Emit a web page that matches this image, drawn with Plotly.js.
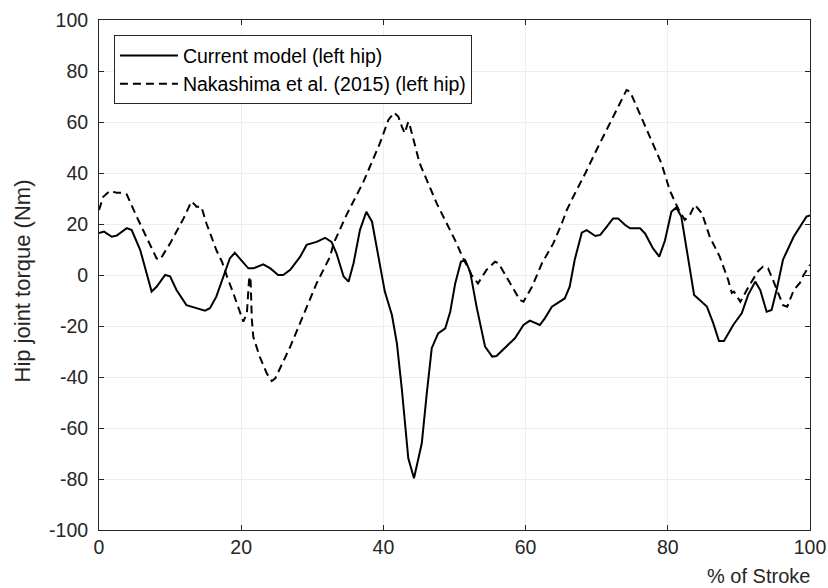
<!DOCTYPE html>
<html>
<head>
<meta charset="utf-8">
<script src="https://cdn.plot.ly/plotly-3.0.1.min.js"></script>
<style>html,body{margin:0;padding:0;background:#fff;}#chart{width:828px;height:588px;}</style>
</head>
<body>
<div id="chart"></div>
<script>
const seriesNames = ["Current model (left hip)", "Nakashima et al. (2015) (left hip)"];

const modelX = [0,0.7,1.8,2.5,3.9,4.6,5.8,7.4,8.1,9.3,10,10.9,12.3,13.3,13.7,14.9,15.6,16.5,17.5,18.4,19.1,19.8,21,21.7,23.1,24.1,25.2,25.9,26.9,28.3,29.2,30.6,31.8,32.7,33.4,34.4,35.1,35.8,36.7,37.6,38.4,39.3,40.2,41.2,41.9,42.6,43.5,44.3,45.4,46.1,46.8,47.7,48.7,49.4,50.1,50.9,51.5,52.2,53.1,54.3,55.3,55.9,57.3,58.5,59.7,60.6,62,62.7,63.7,64.8,65.5,66.2,66.9,67.9,68.6,69.8,70.5,71.4,72.3,73,74,74.7,76.1,76.8,77.9,78.8,79.6,80.5,81.2,81.9,82.7,83.7,85.5,86.4,87.2,87.9,89.2,90.4,91.3,92.3,93,93.9,94.6,95.3,96.2,97.7,99.5,100];
const modelY = [16.5,17,15,15.5,18.4,17.6,9.8,-6.5,-4.6,0,-0.5,-5.9,-11.8,-12.8,-13,-14,-13,-8.5,-0.6,6.5,8.7,6.5,2.6,2.6,4.2,2.6,0,0,2,7.2,11.8,13,14.6,13,8.5,-0.6,-2.6,4.6,17.6,24.8,20.9,7.2,-6.5,-15.7,-26.8,-45,-71.9,-79.7,-66,-46.4,-28.7,-22.9,-20.9,-14.4,-3.3,5.2,5.9,1.3,-12.4,-28.1,-32,-31.8,-28.1,-24.8,-19.6,-17.9,-19.6,-17,-12.4,-10.5,-9.2,-4.6,5.9,16.6,17.6,15.3,15.7,18.9,22.2,22.2,19.6,18.3,18.3,16.3,10.5,7.2,13.5,24.8,26.5,22.9,9.8,-7.8,-12.4,-19,-25.9,-25.9,-19.6,-15,-7.8,-2.6,-5.9,-14.4,-13.7,-5.9,6,15,22.9,23.3];

const nakX = [0,0.6,1.5,2.5,3.2,3.9,5.3,6.9,8.1,8.6,10,11.9,13,13.5,13.7,14.4,15.1,16.5,17.3,18,18.9,20.3,20.8,21.1,21.3,21.5,21.7,22.6,23.6,24.3,24.8,26.9,28.7,30.6,32.5,33,34.8,37.2,39.5,40.7,41.5,42.1,42.6,43,43.5,43.7,45.1,47.5,50.3,51,52.4,53.3,54.5,55.7,56.2,57.8,59.2,59.7,60.9,62.3,63.9,65.1,65.8,66.7,68.4,70.2,72.1,73.5,74.2,74.7,75.6,77.5,79.1,80.3,81.5,82.4,83.1,83.8,84.8,85.9,87.3,88.5,89,89.3,89.7,90.2,91.5,92.7,93.4,94.1,94.8,95.5,96.2,96.8,97.7,98.6,99.1,100];
const nakY = [25.5,30.7,32.9,32.3,32.3,31.6,22.9,13.7,6.5,6.1,12.4,22.2,28.8,27.5,26.8,26.8,20.3,9.8,5.2,-0.6,-7.2,-18.3,-15,-2,-0.6,-17.6,-24.2,-32,-38.6,-41.6,-40.5,-28.1,-16.3,-3.3,7.2,12.4,23.5,36.6,51.6,60.8,63.7,62.1,58.2,55.6,60.1,58.8,43.8,28.1,12.4,7.8,0,-3.3,2,5.2,4.6,-3.3,-9.8,-10.5,-4.6,4.6,12.4,20.3,25.5,30.7,39.9,50.3,60.8,68.6,72.5,71.9,66,54.2,43.8,33,25.8,21.6,23.5,27.5,24.2,15,7.2,-2,-7,-6.5,-8.5,-10.5,-3.9,1.5,3.3,2.6,-2,-7.2,-11.8,-12.4,-6,-3,0,4];

const xTicks = [0,20,40,60,80,100];
const yTicks = [-100,-80,-60,-40,-20,0,20,40,60,80,100];
const xTitle = "% of Stroke";
const yTitle = "Hip joint torque (Nm)";

const FONT = "'Liberation Sans', Arial, sans-serif";
const FS = 19.5;
const traces = [
  {x: modelX, y: modelY, name: seriesNames[0], type: 'scatter', mode: 'lines',
   line: {color: '#000000', width: 2}},
  {x: nakX, y: nakY, name: seriesNames[1], type: 'scatter', mode: 'lines',
   line: {color: '#000000', width: 2, dash: '8px,5px'}}
];

const axisCommon = {
  showline: true, linecolor: '#262626', linewidth: 1, mirror: 'ticks',
  ticks: 'inside', ticklen: 5, tickcolor: '#262626', tickwidth: 1,
  showgrid: true, gridcolor: '#eeeeee', gridwidth: 1, zeroline: false,
  tickfont: {family: FONT, size: FS, color: '#262626'}
};

const layout = {
  width: 828, height: 588,
  margin: {l: 99, r: 18, t: 20, b: 58},
  paper_bgcolor: '#ffffff', plot_bgcolor: '#ffffff',
  font: {family: FONT, size: FS, color: '#262626'},
  showlegend: true,
  legend: {x: 0.021, y: 0.97, xanchor: 'left', yanchor: 'top',
    bgcolor: '#ffffff', bordercolor: '#262626', borderwidth: 1, itemwidth: 58,
    font: {family: FONT, size: FS, color: '#000000'}, tracegroupgap: 0},
  xaxis: Object.assign({}, axisCommon, {range: [0, 100], tickvals: xTicks, ticktext: xTicks.map(String)}),
  yaxis: Object.assign({}, axisCommon, {range: [-100, 100], tickvals: yTicks, ticktext: yTicks.map(String),
    ticklabelstandoff: 6}),
  annotations: [
    {text: xTitle, xref: 'paper', yref: 'paper', x: 1, y: 0, xanchor: 'right', yanchor: 'top',
     yshift: -33, xshift: 2, showarrow: false, font: {family: FONT, size: 20, color: '#262626'}},
    {text: yTitle, xref: 'paper', yref: 'paper', x: 0, y: 0.5, xanchor: 'center', yanchor: 'middle',
     xshift: -77.5, yshift: -6, textangle: -90, showarrow: false, font: {family: FONT, size: 22, color: '#262626'}}
  ]
};

Plotly.newPlot('chart', traces, layout, {displayModeBar: false, staticPlot: true});
</script>
</body>
</html>
